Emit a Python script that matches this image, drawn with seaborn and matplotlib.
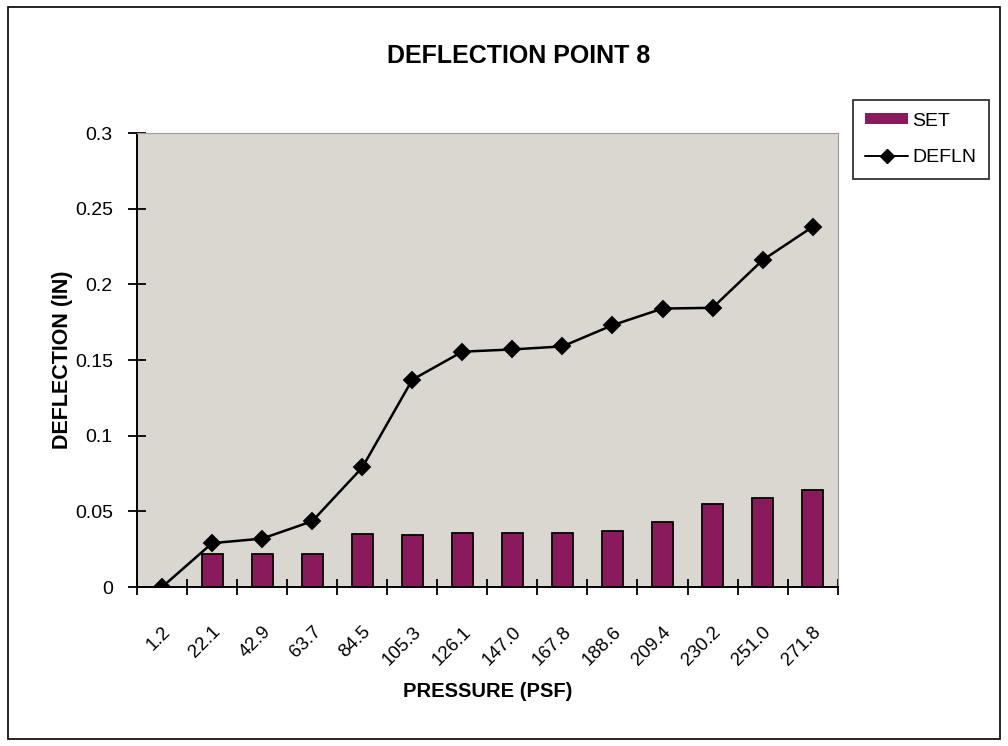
import numpy as np
import pandas as pd
import matplotlib
matplotlib.use('Agg')
import matplotlib.pyplot as plt
from matplotlib.patches import Rectangle, Patch
from matplotlib.lines import Line2D
import seaborn as sns

# 数据
pressure = ['1.2', '22.1', '42.9', '63.7', '84.5', '105.3', '126.1',
            '147.0', '167.8', '188.6', '209.4', '230.2', '251.0', '271.8']
set_vals = [0.0, 0.022, 0.022, 0.022, 0.035, 0.0345, 0.036,
            0.036, 0.0355, 0.037, 0.043, 0.055, 0.0585, 0.064]
defln_vals = [0.0, 0.029, 0.032, 0.0435, 0.079, 0.137, 0.1555,
              0.157, 0.159, 0.173, 0.184, 0.1845, 0.216, 0.238]
y_ticks = [0, 0.05, 0.1, 0.15, 0.2, 0.25, 0.3]
y_tick_labels = ['0', '0.05', '0.1', '0.15', '0.2', '0.25', '0.3']

df = pd.DataFrame({'pressure': pressure, 'SET': set_vals, 'DEFLN': defln_vals})

sns.set_style('white')
plt.rcParams['font.family'] = ['Liberation Sans', 'DejaVu Sans']
plt.rcParams['text.color'] = 'black'
plt.rcParams['axes.labelcolor'] = 'black'
plt.rcParams['xtick.color'] = 'black'
plt.rcParams['ytick.color'] = 'black'

bar_color = '#8a1a5c'
bg_color = '#dad7d0'

fig = plt.figure(figsize=(10.08, 7.46), dpi=100)
ax = fig.add_axes([0.136, 0.2131, 0.695, 0.6086])
ax.set_facecolor(bg_color)

sns.barplot(data=df, x='pressure', y='SET', order=pressure, color=bar_color,
            width=0.42, edgecolor='black', linewidth=1.3, saturation=1, ax=ax)
sns.pointplot(data=df, x='pressure', y='DEFLN', order=pressure, color='black',
              markers='D', markersize=8, linewidth=1.8, ax=ax)

ax.set_xlim(-0.5, len(pressure) - 0.5)
ax.set_ylim(0, 0.3)
ax.set_yticks(y_ticks)
ax.set_yticklabels(y_tick_labels, fontsize=14)
ax.set_xticks(np.arange(len(pressure)))
ax.set_xticklabels(pressure, rotation=45, ha='right', rotation_mode='anchor', fontsize=13.5)
ax.tick_params(axis='x', which='major', length=0, pad=26)
ax.set_xticks(np.arange(-0.5, len(pressure)), minor=True)
ax.tick_params(axis='x', which='minor', bottom=True, direction='inout',
               length=12, width=1.3, color='black')
ax.tick_params(axis='y', direction='inout', length=13, width=1.3, color='black',
               left=True, pad=11)

for side in ['left', 'bottom']:
    ax.spines[side].set_color('black')
    ax.spines[side].set_linewidth(1.4)
for side in ['top', 'right']:
    ax.spines[side].set_color('#9a9a9a')
    ax.spines[side].set_linewidth(0.8)

ax.set_xlabel('PRESSURE (PSF)', fontsize=14.5, fontweight='bold', labelpad=10)
ax.set_ylabel('DEFLECTION (IN)', fontsize=15.5, fontweight='bold', labelpad=1)
fig.text(0.515, 0.925, 'DEFLECTION POINT 8', ha='center', va='center',
         fontsize=18, fontweight='bold')

handles = [Patch(facecolor=bar_color, edgecolor='none'),
           Line2D([0], [0], color='black', marker='D', markersize=7, linewidth=1.4)]
leg = fig.legend(handles, ['SET', 'DEFLN'], loc='upper left',
                 bbox_to_anchor=(0.846, 0.866), fontsize=14, frameon=True,
                 fancybox=False, edgecolor='black', handlelength=2.2,
                 handleheight=0.5, handletextpad=0.2, borderpad=0.65,
                 labelspacing=1.0, borderaxespad=0)
leg.get_frame().set_linewidth(1.3)

# 外框
fig.patches.append(Rectangle((0.008, 0.01), 0.984, 0.98, transform=fig.transFigure,
                             fill=False, edgecolor='black', linewidth=1.2))

fig.savefig('out.png', dpi=100)
